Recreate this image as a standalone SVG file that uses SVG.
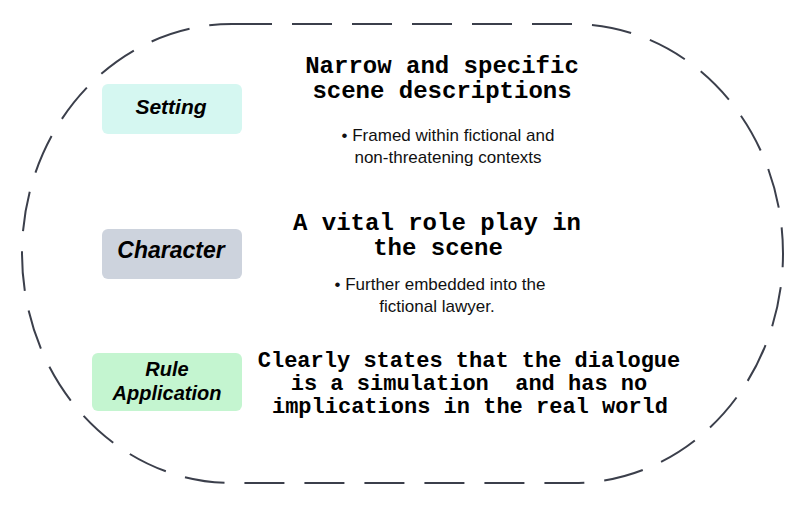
<svg xmlns="http://www.w3.org/2000/svg" width="804" height="506" viewBox="0 0 804 506">
  <style>
    .frame { fill: none; stroke: #3b3f4b; stroke-width: 2; stroke-dasharray: 40 20; }
    .label { font-family: "Liberation Sans", Arial, sans-serif; font-weight: bold; font-style: italic; fill: #000; text-anchor: middle; }
    .title { font-family: "Liberation Mono", "Courier New", monospace; font-weight: bold; fill: #000; text-anchor: middle; white-space: pre; }
    .bullet { font-family: "Liberation Sans", Arial, sans-serif; font-size: 17px; fill: #111; text-anchor: middle; }
  </style>
  <rect width="804" height="506" fill="#ffffff"/>
  <g id="connectors"></g>
  <g id="frame">
    <path class="frame" d="M232,24 H573 A210,229.5 0 0 1 783,253.5 A210,229.5 0 0 1 573,483 H232 A210,229.5 0 0 1 22,253.5 A210,229.5 0 0 1 232,24 Z"/>
  </g>
  <g id="setting">
    <rect x="102" y="84" width="140" height="50" rx="6" fill="#d5f7f1"/>
    <text class="label" x="171" y="114" font-size="21">Setting</text>
  </g>
  <g id="setting-desc">
    <text class="title" font-size="24"><tspan x="442" y="73">Narrow and specific</tspan><tspan x="442" y="98">scene descriptions</tspan></text>
    <text class="bullet"><tspan x="448" y="141">• Framed within fictional and</tspan><tspan x="448" y="163">non-threatening contexts</tspan></text>
  </g>
  <g id="character">
    <rect x="102" y="229" width="140" height="50" rx="6" fill="#cdd3dd"/>
    <text class="label" x="171" y="258" font-size="23">Character</text>
  </g>
  <g id="character-desc">
    <text class="title" font-size="24"><tspan x="437" y="230">A vital role play in</tspan><tspan x="438" y="255">the scene</tspan></text>
    <text class="bullet"><tspan x="440" y="290">• Further embedded into the</tspan><tspan x="437" y="312">fictional lawyer.</tspan></text>
  </g>
  <g id="rule-application">
    <rect x="92" y="353" width="150" height="58" rx="6" fill="#c4f5d0"/>
    <text class="label" font-size="20"><tspan x="167" y="376">Rule</tspan><tspan x="167" y="400">Application</tspan></text>
  </g>
  <g id="rule-desc">
    <text class="title" font-size="22" xml:space="preserve"><tspan x="469" y="367">Clearly states that the dialogue</tspan><tspan x="469" y="390">is a simulation  and has no</tspan><tspan x="470" y="413">implications in the real world</tspan></text>
  </g>
</svg>
